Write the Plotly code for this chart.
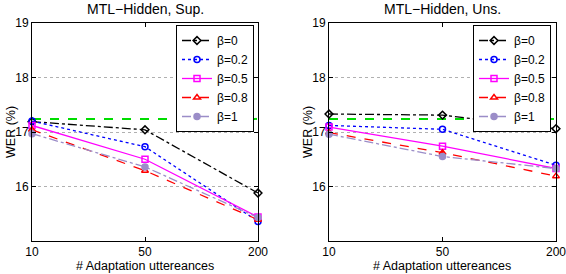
import plotly.graph_objects as go

categories = ["10", "50", "200"]
betas = ["β=0", "β=0.2", "β=0.5", "β=0.8", "β=1"]

sup_values = {
    "β=0":   [17.19, 17.04, 15.88],
    "β=0.2": [17.20, 16.73, 15.36],
    "β=0.5": [17.12, 16.50, 15.44],
    "β=0.8": [17.04, 16.29, 15.39],
    "β=1":   [16.97, 16.36, 15.43],
}
uns_values = {
    "β=0":   [17.33, 17.31, 17.06],
    "β=0.2": [17.12, 17.05, 16.39],
    "β=0.5": [17.09, 16.74, 16.33],
    "β=0.8": [16.99, 16.62, 16.19],
    "β=1":   [16.96, 16.55, 16.33],
}
baseline = [17.24, 17.24, 17.24]
titles = ["MTL−Hidden, Sup.", "MTL−Hidden, Uns."]
x_title = "# Adaptation uttereances"
y_title = "WER (%)"
y_ticks = [16, 17, 18, 19]

styles = {
    "β=0":   dict(color="black", dash="dashdot", symbol="diamond-open"),
    "β=0.2": dict(color="blue", dash="dot", symbol="circle-open"),
    "β=0.5": dict(color="magenta", dash="solid", symbol="square-open"),
    "β=0.8": dict(color="red", dash="dash", symbol="triangle-up-open"),
    "β=1":   dict(color="#9b8dc8", dash="dashdot", symbol="circle"),
}

W, H = 566, 274
ML, MR, MT, MB = 32, 10, 23, 33
PW, PH = W - ML - MR, H - MT - MB
font = "Liberation Sans, Arial, Helvetica, sans-serif"


def px_x(p):
    return (p - ML) / PW


def px_y(p):
    return (H - MB - p) / PH


fig = go.Figure()
panels = [sup_values, uns_values]
for i, vals in enumerate(panels):
    xa = "x" if i == 0 else "x2"
    ya = "y" if i == 0 else "y2"
    lg = "legend" if i == 0 else "legend2"
    fig.add_trace(go.Scatter(
        x=categories, y=baseline, mode="lines", xaxis=xa, yaxis=ya,
        line=dict(color="#00dd00", dash="dash", width=2), showlegend=False,
        hoverinfo="skip"))
    for b in betas:
        s = styles[b]
        fig.add_trace(go.Scatter(
            x=categories, y=vals[b], mode="lines+markers", name=b,
            xaxis=xa, yaxis=ya, legend=lg, cliponaxis=False,
            line=dict(color=s["color"], dash=s["dash"], width=1.3),
            marker=dict(symbol=s["symbol"], size=6, color=s["color"],
                        line=dict(color=s["color"], width=1.5))))

axis_common = dict(showline=True, linecolor="black", linewidth=1, mirror="ticks",
                   ticks="inside", ticklen=4, tickcolor="black", automargin=False,
                   tickfont=dict(family=font, size=12, color="black"))

xd1 = [px_x(32), px_x(258)]
xd2 = [px_x(329), px_x(556)]

legend_common = dict(xanchor="right", yanchor="top", bgcolor="white",
                     bordercolor="black", borderwidth=1,
                     font=dict(family=font, size=12), itemwidth=30,
                     tracegroupgap=0)

fig.update_layout(
    width=W, height=H, margin=dict(l=ML, r=MR, t=MT, b=MB, autoexpand=False),
    paper_bgcolor="white", plot_bgcolor="white",
    font=dict(family=font, size=12, color="black"),
    xaxis=dict(domain=xd1, type="category", range=[0, 2], showgrid=False,
               anchor="y", **axis_common),
    xaxis2=dict(domain=xd2, type="category", range=[0, 2], showgrid=False,
                anchor="y2", **axis_common),
    yaxis=dict(domain=[0, 1], range=[15, 19], tickvals=y_ticks,
               showgrid=True, gridcolor="#b0b0b0", griddash="dot", gridwidth=1,
               anchor="x", zeroline=False, **axis_common),
    yaxis2=dict(domain=[0, 1], range=[15, 19], tickvals=y_ticks,
                showgrid=True, gridcolor="#b0b0b0", griddash="dot", gridwidth=1,
                anchor="x2", zeroline=False, **axis_common),
    legend=dict(x=px_x(254), y=px_y(25), **legend_common),
    legend2=dict(x=px_x(551), y=px_y(25), **legend_common),
)

ann = []
for i, (cx, ax_left) in enumerate([(145, 32), (442, 329)]):
    ann.append(dict(text=titles[i], x=px_x(cx), y=px_y(9), xref="paper",
                    yref="paper", showarrow=False,
                    font=dict(family=font, size=14), xanchor="center",
                    yanchor="middle"))
    ann.append(dict(text=x_title, x=px_x(cx), y=px_y(266), xref="paper",
                    yref="paper", showarrow=False,
                    font=dict(family=font, size=12.5), xanchor="center",
                    yanchor="middle"))
    ann.append(dict(text=y_title, x=px_x(ax_left - 21), y=px_y(132),
                    xref="paper", yref="paper", showarrow=False, textangle=-90,
                    font=dict(family=font, size=12.5), xanchor="center",
                    yanchor="middle"))
fig.update_layout(annotations=ann)

fig.write_html(
    "out.html",
    config={"displayModeBar": False},
    post_script="document.body.style.margin='0';document.body.style.padding='0';",
)
